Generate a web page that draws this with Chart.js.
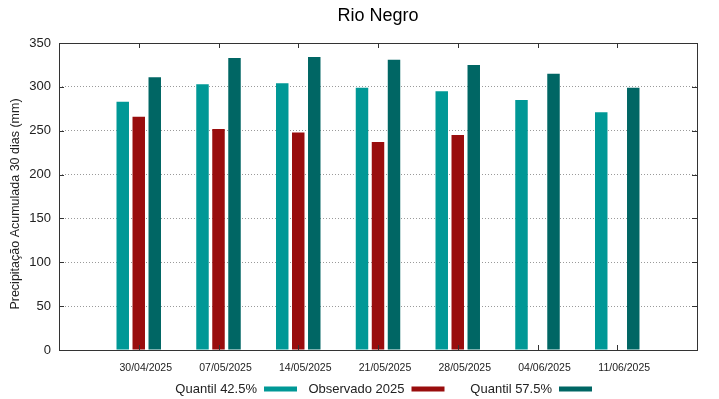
<!DOCTYPE html>
<html>
<head>
<meta charset="utf-8">
<script src="https://cdn.jsdelivr.net/npm/chart.js@4.4.1/dist/chart.umd.min.js"></script>
<style>
  html, body { margin: 0; padding: 0; background: #fff; }
  #wrap { width: 719px; height: 399px; }
</style>
</head>
<body>
<div id="wrap"><canvas id="chart" width="719" height="399"></canvas></div>
<script>
// --- data ---
const dates = ['30/04/2025', '07/05/2025', '14/05/2025', '21/05/2025', '28/05/2025', '04/06/2025', '11/06/2025'];
const quantil425 = [283, 303, 304, 299, 295, 285, 271];
const observado2025 = [266, 252, 248, 237, 245, null, null];
const quantil575 = [311, 333, 334, 331, 325, 315, 299];
const yTicks = [0, 50, 100, 150, 200, 250, 300, 350];

const FONT = "'Liberation Sans', Arial, sans-serif";
const colors = { q425: '#009896', obs: '#990d0d', q575: '#006664' };

// gnuplot-style x range: empty slot on each side of the dates
const labels = ['', ...dates, ''];
const pad = arr => [null, ...arr, null];

const legendItems = [
    { text: 'Quantil 42.5%', color: colors.q425 },
    { text: 'Observado 2025', color: colors.obs },
    { text: 'Quantil 57.5%', color: colors.q575 }
];

// draws frame, inside ticks, title, y label and legend
const decorations = {
    id: 'decorations',
    afterDraw(chart) {
        const { ctx, chartArea: a, scales } = chart;
        ctx.save();
        ctx.strokeStyle = '#333';
        ctx.lineWidth = 1;
        ctx.strokeRect(Math.round(a.left) + 0.5, Math.round(a.top) + 0.5,
            Math.round(a.right - a.left), Math.round(a.bottom - a.top));

        // inside tick marks
        ctx.beginPath();
        yTicks.forEach(v => {
            const y = Math.round(scales.y.getPixelForValue(v)) + 0.5;
            ctx.moveTo(a.left, y); ctx.lineTo(a.left + 5, y);
            ctx.moveTo(a.right, y); ctx.lineTo(a.right - 5, y);
        });
        dates.forEach((d, i) => {
            const x = Math.round(scales.x.getPixelForValue(i + 1)) + 0.5;
            ctx.moveTo(x, a.bottom); ctx.lineTo(x, a.bottom - 5);
            ctx.moveTo(x, a.top); ctx.lineTo(x, a.top + 5);
        });
        ctx.stroke();

        // title
        ctx.fillStyle = '#000';
        ctx.font = '18px ' + FONT;
        ctx.textAlign = 'center';
        ctx.textBaseline = 'middle';
        ctx.fillText('Rio Negro', (a.left + a.right) / 2, 16);

        // y axis label
        ctx.save();
        ctx.translate(16, 204);
        ctx.rotate(-Math.PI / 2);
        ctx.font = '12.5px ' + FONT;
        ctx.fillStyle = '#222';
        ctx.fillText('Precipitação Acumulada 30 dias (mm)', 0, 0);
        ctx.restore();

        // legend like gnuplot: equal columns, text right-aligned, sample after it
        ctx.font = '13px ' + FONT;
        ctx.textAlign = 'right';
        const swW = 33, swH = 5, gapIn = 7, colW = 147.5;
        const ly = 389;
        legendItems.forEach((it, i) => {
            const xr = 257 + i * colW;
            ctx.fillStyle = '#222';
            ctx.fillText(it.text, xr, ly);
            ctx.fillStyle = it.color;
            ctx.fillRect(xr + gapIn, ly - swH / 2, swW, swH);
        });
        ctx.restore();
    }
};

const ds = (label, data, color) => ({
    label, data: pad(data), backgroundColor: color, borderWidth: 0,
    categoryPercentage: 0.602, barPercentage: 0.78
});

new Chart(document.getElementById('chart'), {
    type: 'bar',
    data: {
        labels,
        datasets: [
            ds('Quantil 42.5%', quantil425, colors.q425),
            ds('Observado 2025', observado2025, colors.obs),
            ds('Quantil 57.5%', quantil575, colors.q575)
        ]
    },
    options: {
        responsive: false,
        animation: false,
        layout: { padding: { left: 0, right: 22, top: 43, bottom: 0 } },
        plugins: { legend: { display: false }, tooltip: { enabled: false }, title: { display: false } },
        scales: {
            x: {
                offset: false,
                grid: { display: false, drawTicks: false },
                border: { display: false },
                ticks: { color: '#222', font: { family: FONT, size: 10.5 }, padding: 12, labelOffset: 7, maxRotation: 0, autoSkip: false },
                afterFit: s => { s.height = 49; }
            },
            y: {
                min: 0, max: 350,
                afterBuildTicks: s => { s.ticks = yTicks.map(v => ({ value: v })); },
                grid: { color: '#9a9a9a', lineWidth: 1, drawTicks: false },
                border: { display: false, dash: [1, 2] },
                ticks: { color: '#222', font: { family: FONT, size: 13 }, padding: 8 },
                afterFit: s => { s.width = 59; }
            }
        }
    },
    plugins: [decorations]
});
</script>
</body>
</html>
